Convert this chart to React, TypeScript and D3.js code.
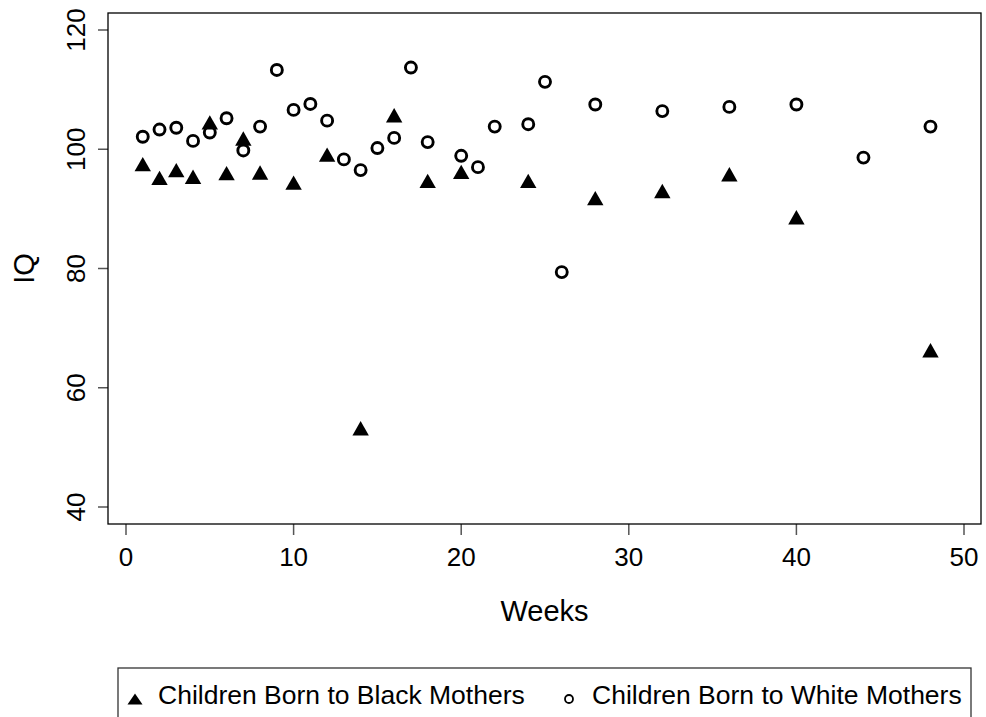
import React from "react";
import * as d3 from "d3";

const blackWeeks = [1, 2, 3, 4, 5, 6, 7, 8, 10, 12, 14, 16, 18, 20, 24, 28, 32, 36, 40, 48];
const blackIQ = [97.5, 95.2, 96.5, 95.4, 104.5, 96.0, 101.8, 96.1, 94.4, 99.1, 53.2, 105.7, 94.7, 96.2, 94.7, 91.8, 93.0, 95.8, 88.6, 66.3];

const whiteWeeks = [1, 2, 3, 4, 5, 6, 7, 8, 9, 10, 11, 12, 13, 14, 15, 16, 17, 18, 20, 21, 22, 24, 25, 26, 28, 32, 36, 40, 44, 48];
const whiteIQ = [102.1, 103.3, 103.6, 101.4, 102.8, 105.2, 99.8, 103.8, 113.3, 106.6, 107.6, 104.8, 98.3, 96.5, 100.2, 101.9, 113.7, 101.2, 98.9, 97.0, 103.8, 104.2, 111.3, 79.4, 107.5, 106.4, 107.1, 107.5, 98.6, 103.8];

const xTicks = [0, 10, 20, 30, 40, 50];
const yTicks = [40, 60, 80, 100, 120];

const legendLabels = ["Children Born to Black Mothers", "Children Born to White Mothers"];

export default function App() {
  const W = 986, H = 717;
  const left = 108, right = 981, top = 13, bottom = 524;
  const x = d3.scaleLinear().domain([0, 50]).range([126, 964]);
  const y = d3.scaleLinear().domain([40, 120]).range([507, 30]);
  const font = "'Liberation Sans', Arial, Helvetica, sans-serif";
  const tri = (cx: number, cy: number, hw: number, hh: number) =>
    `M${cx},${cy - hh}L${cx + hw},${cy + hh}L${cx - hw},${cy + hh}Z`;

  return (
    <svg width={W} height={H} style={{ position: "absolute", left: 0, top: 0, background: "#fff" }} fontFamily={font}>
      <rect x={0} y={0} width={W} height={H} fill="#fff" />
      {yTicks.map((t) => (
        <g key={"y" + t}>
          <line x1={left - 10} x2={left} y1={y(t)} y2={y(t)} stroke="#555" strokeWidth={1.5} />
          <text transform={`translate(85,${y(t)}) rotate(-90)`} textAnchor="middle" fontSize={26} fill="#000">
            {t}
          </text>
        </g>
      ))}
      {xTicks.map((t) => (
        <g key={"x" + t}>
          <line x1={x(t)} x2={x(t)} y1={bottom} y2={bottom + 11} stroke="#555" strokeWidth={1.5} />
          <text x={x(t)} y={566} textAnchor="middle" fontSize={26} fill="#000">
            {t}
          </text>
        </g>
      ))}
      <rect x={left} y={top} width={right - left} height={bottom - top} fill="none" stroke="#000" strokeWidth={1.3} />
      <text x={(left + right) / 2} y={621} textAnchor="middle" fontSize={29} fill="#000">
        Weeks
      </text>
      <text transform={`translate(34,${(top + bottom) / 2}) rotate(-90)`} textAnchor="middle" fontSize={29} fill="#000">
        IQ
      </text>
      {whiteWeeks.map((w, i) => (
        <circle key={"w" + i} cx={x(w)} cy={y(whiteIQ[i])} r={5.5} fill="none" stroke="#000" strokeWidth={2.9} />
      ))}
      {blackWeeks.map((w, i) => (
        <path key={"b" + i} d={tri(x(w), y(blackIQ[i]), 8.2, 7.2)} fill="#000" />
      ))}
      <rect x={118} y={668} width={853} height={80} fill="none" stroke="#333" strokeWidth={1.3} />
      <path d={tri(135, 699, 7.5, 5.5)} fill="#000" />
      <text x={158} y={704} fontSize={26.5} fill="#000">
        {legendLabels[0]}
      </text>
      <circle cx={569} cy={699} r={4} fill="none" stroke="#000" strokeWidth={1.8} />
      <text x={592} y={704} fontSize={26.5} fill="#000">
        {legendLabels[1]}
      </text>
    </svg>
  );
}
